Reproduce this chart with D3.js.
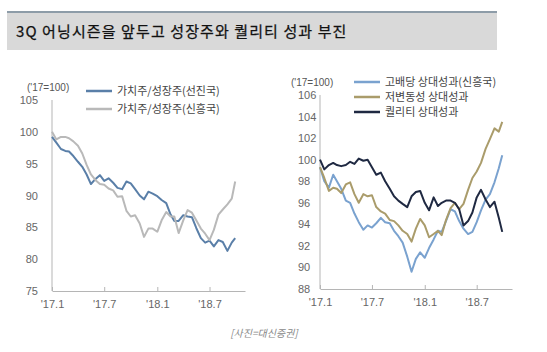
<!DOCTYPE html>
<html>
<head>
<meta charset="utf-8">
<script src="https://cdn.jsdelivr.net/npm/d3@7"></script>
<style>
body { margin: 0; background: #fff; }
svg { font-family: "Liberation Sans", "Noto Sans CJK KR", sans-serif; }
</style>
</head>
<body>
<div id="chart"></div>
<script>
// semi-monthly observation dates
var dates = [
    '2017-01-01','2017-01-16','2017-02-01','2017-02-16','2017-03-01','2017-03-16',
    '2017-04-01','2017-04-16','2017-05-01','2017-05-16','2017-06-01','2017-06-16',
    '2017-07-01','2017-07-16','2017-08-01','2017-08-16','2017-09-01','2017-09-16',
    '2017-10-01','2017-10-16','2017-11-01','2017-11-16','2017-12-01','2017-12-16',
    '2018-01-01','2018-01-16','2018-02-01','2018-02-16','2018-03-01','2018-03-16',
    '2018-04-01','2018-04-16','2018-05-01','2018-05-16','2018-06-01','2018-06-16',
    '2018-07-01','2018-07-16','2018-08-01','2018-08-16','2018-09-01','2018-09-16',
    '2018-09-28'
];

// left chart: value / growth
var value_dev = [99.2,98.3,97.3,97.0,96.9,96.2,95.3,94.5,93.3,91.8,92.6,93.2,
    92.3,92.7,92.0,91.2,91.0,92.2,91.9,91.0,90.0,89.4,90.6,90.3,
    89.9,89.3,88.8,87.0,86.0,86.0,86.9,86.7,86.6,84.9,83.3,82.6,
    82.9,82.0,83.0,82.7,81.3,82.6,83.3];
var value_em = [100.0,98.8,99.2,99.2,99.0,98.5,97.8,96.6,94.8,93.3,92.4,91.8,
    91.7,91.1,90.8,89.8,89.9,87.6,86.7,86.9,85.6,83.5,84.8,84.8,
    84.3,86.1,87.4,86.7,86.7,84.1,86.1,87.7,87.3,86.1,84.8,84.0,
    83.0,84.6,87.0,87.8,88.6,89.5,92.2];

// right chart: factor relative performance
var high_div = [99.3,98.0,97.4,98.6,98.0,97.3,96.2,96.0,95.0,94.2,93.5,93.9,
    93.7,94.1,94.6,94.2,94.1,93.4,92.9,92.3,91.0,89.6,90.8,91.4,
    90.9,91.8,92.6,93.4,93.3,94.3,95.4,95.2,94.3,93.6,93.1,93.3,
    94.2,95.3,96.3,96.8,97.9,99.2,100.4];
var low_vol = [99.3,98.3,97.1,97.4,97.3,96.9,97.7,97.9,96.8,96.0,96.8,96.6,
    96.7,95.6,95.2,95.0,94.4,94.3,93.9,93.4,93.1,92.4,93.6,94.5,
    93.9,92.8,93.1,93.4,93.0,94.4,95.5,96.0,95.4,95.9,97.2,98.3,
    98.9,99.7,101.0,101.9,102.9,102.6,103.5];
var quality = [100.0,99.1,99.5,99.7,99.5,99.4,99.5,99.8,99.6,100.1,99.9,100.0,
    99.3,98.6,98.8,98.0,97.3,96.6,96.2,95.9,95.6,96.6,97.0,97.1,
    96.0,95.3,96.5,95.7,96.0,96.2,96.2,96.0,95.4,93.9,94.3,95.1,
    96.5,97.2,96.3,95.6,96.1,94.6,93.3];

var left_ticks = [75, 80, 85, 90, 95, 100, 105];
var right_ticks = [88, 90, 92, 94, 96, 98, 100, 102, 104, 106];
var x_ticks = ['2017-01-01', '2017-07-01', '2018-01-01', '2018-07-01'];

var title = '3Q 어닝시즌을 앞두고 성장주와 퀄리티 성과 부진';
var unit_label = "('17=100)";
var caption = '[사진=대신증권]';

var time_parse = d3.timeParse('%Y-%m-%d');
var tick_format = d3.timeFormat("'%y.%-m");
var parsed_dates = dates.map(time_parse);
var parsed_ticks = x_ticks.map(time_parse);

var width = 547;
var height = 352;

var svg = d3.select('#chart')
    .append('svg')
    .attr('width', width)
    .attr('height', height);

// title bar
svg.append('rect')
    .attr('x', 7).attr('y', 12)
    .attr('width', 490).attr('height', 38)
    .attr('fill', '#d9d9d9');
svg.append('rect')
    .attr('x', 7).attr('y', 11)
    .attr('width', 490).attr('height', 2)
    .attr('fill', '#8d9ca8');
svg.append('text')
    .attr('x', 16).attr('y', 37)
    .attr('font-family', '"Noto Sans CJK KR", sans-serif')
    .attr('font-size', 15)
    .attr('letter-spacing', 1.1)
    .attr('fill', '#111')
    .attr('stroke', '#111')
    .attr('stroke-width', 0.25)
    .text(title);

function draw_panel(opts) {
    var x_scale = d3.scaleTime()
        .domain([time_parse('2017-01-01'), time_parse('2018-11-01')])
        .range([opts.left, opts.right]);
    var y_scale = d3.scaleLinear()
        .domain(opts.domain)
        .range([opts.bottom, opts.top]);

    var g = svg.append('g');

    // y axis line
    g.append('line')
        .attr('x1', opts.left).attr('x2', opts.left)
        .attr('y1', opts.top).attr('y2', opts.bottom)
        .attr('stroke', '#b5b5b5');

    g.selectAll('.ylab')
        .data(opts.ticks)
        .enter()
        .append('text')
        .attr('x', opts.label_x)
        .attr('y', function(d) { return y_scale(d) + 4; })
        .attr('text-anchor', opts.label_anchor)
        .attr('font-size', 11)
        .attr('fill', '#666')
        .text(function(d) { return d; });

    // x axis
    var x_axis = d3.axisBottom(x_scale)
        .tickValues(parsed_ticks)
        .tickFormat(tick_format)
        .tickSizeInner(-4)
        .tickSizeOuter(0)
        .tickPadding(9);
    var ax = g.append('g')
        .attr('transform', 'translate(0,' + opts.bottom + ')')
        .call(x_axis);
    ax.select('.domain').attr('stroke', '#b5b5b5');
    ax.selectAll('.tick line').attr('stroke', '#b5b5b5');
    ax.selectAll('.tick text')
        .attr('font-size', 11)
        .attr('fill', '#666')
        .attr('font-family', '"Liberation Sans", sans-serif');

    g.append('text')
        .attr('x', opts.unit_x).attr('y', opts.unit_y)
        .attr('font-size', 10)
        .attr('fill', '#555')
        .text(unit_label);

    var line = d3.line()
        .x(function(d, i) { return x_scale(parsed_dates[i]); })
        .y(function(d) { return y_scale(d); });

    opts.series.forEach(function(s) {
        g.append('path')
            .datum(s.values)
            .attr('d', line)
            .attr('fill', 'none')
            .attr('stroke', s.color)
            .attr('stroke-width', 2)
            .attr('stroke-linejoin', 'round');
    });

    // legend
    opts.series.forEach(function(s, i) {
        var ly = opts.legend_y[i];
        g.append('line')
            .attr('x1', opts.legend_x).attr('x2', opts.legend_x + 26)
            .attr('y1', ly).attr('y2', ly)
            .attr('stroke', s.color)
            .attr('stroke-width', 2.5);
        g.append('text')
            .attr('x', opts.legend_x + 31)
            .attr('y', ly + 4)
            .attr('font-size', 11)
            .attr('fill', '#444')
            .attr('font-family', '"Noto Sans CJK KR", sans-serif')
            .text(s.name);
    });
}

draw_panel({
    left: 52, right: 245, top: 100, bottom: 291,
    domain: [75, 105], ticks: left_ticks,
    label_x: 38, label_anchor: 'end',
    unit_x: 27, unit_y: 91,
    legend_x: 86, legend_y: [91, 109],
    series: [
        {name: '가치주/성장주(선진국)', values: value_dev, color: '#5a7fa8'},
        {name: '가치주/성장주(신흥국)', values: value_em, color: '#b9b9b9'}
    ]
});

draw_panel({
    left: 320, right: 512, top: 95, bottom: 289,
    domain: [88, 106], ticks: right_ticks,
    label_x: 298, label_anchor: 'start',
    unit_x: 291, unit_y: 86,
    legend_x: 354, legend_y: [82, 97, 112],
    series: [
        {name: '고배당 상대성과(신흥국)', values: high_div, color: '#7aa2cf'},
        {name: '저변동성 상대성과', values: low_vol, color: '#aa9c6b'},
        {name: '퀄리티 상대성과', values: quality, color: '#1f2942'}
    ]
});

svg.append('text')
    .attr('x', 264).attr('y', 337)
    .attr('text-anchor', 'middle')
    .attr('font-size', 10)
    .attr('font-style', 'italic')
    .attr('fill', '#888')
    .attr('font-family', '"Noto Sans CJK KR", sans-serif')
    .text(caption);
</script>
</body>
</html>
